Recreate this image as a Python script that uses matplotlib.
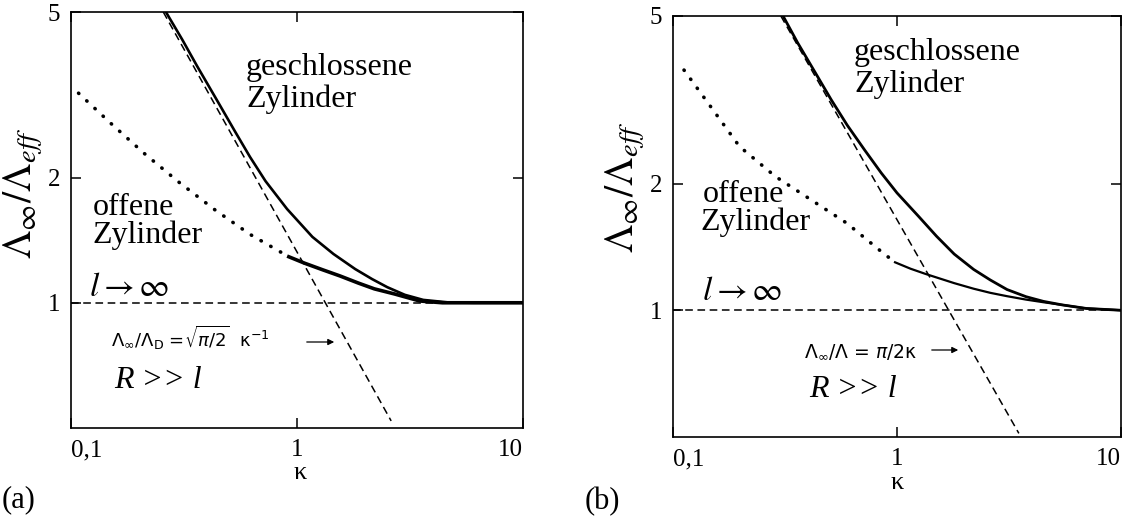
import matplotlib
matplotlib.use("Agg")
import matplotlib.pyplot as plt

plt.rcParams['font.family'] = ['Liberation Serif', 'DejaVu Serif']
plt.rcParams['mathtext.fontset'] = 'stix'

W, H = 1130, 522

# ---------------- data ----------------
# panel (a)
a_closed_k = [0.263, 0.31, 0.362, 0.45, 0.532, 0.62, 0.726, 0.904, 1.17, 1.45, 1.81,
              2.15, 2.51, 3.0, 3.62, 4.67, 6.0, 10.0]
a_closed_r = [5.0, 4.3, 3.70, 3.02, 2.58, 2.24, 1.96, 1.68, 1.44, 1.31, 1.205,
              1.14, 1.09, 1.045, 1.016, 1.002, 1.0, 1.0]
a_open_dot_k = [0.108, 0.15, 0.21, 0.30, 0.435, 0.62, 0.92]
a_open_dot_r = [3.19, 2.70, 2.29, 1.95, 1.67, 1.46, 1.29]
a_open_k = [0.92, 1.08, 1.30, 1.55, 1.87, 2.2, 2.7, 3.49, 4.4, 10.0]
a_open_r = [1.29, 1.245, 1.20, 1.16, 1.115, 1.08, 1.05, 1.01, 1.0, 1.0]
a_asym_k = [0.256, 2.61]
a_asym_r = [5.0, 0.52]

# panel (b)
b_closed_k = [0.31, 0.36, 0.434, 0.509, 0.60, 0.718, 0.85, 1.0, 1.25, 1.50, 1.80, 2.2,
              2.61, 3.1, 3.77, 4.5, 5.45, 7.0, 10.0]
b_closed_r = [5.0, 4.32, 3.65, 3.16, 2.75, 2.40, 2.12, 1.90, 1.67, 1.50, 1.36, 1.25,
              1.18, 1.12, 1.077, 1.05, 1.03, 1.01, 1.0]
b_open_dot_k = [0.112, 0.147, 0.198, 0.286, 0.413, 0.597, 0.863, 0.98]
b_open_dot_r = [3.72, 3.05, 2.45, 2.08, 1.83, 1.61, 1.37, 1.30]
b_open_k = [0.98, 1.15, 1.34, 1.55, 1.80, 2.2, 2.61, 3.1, 3.77, 4.5, 5.45, 7.0, 10.0]
b_open_r = [1.30, 1.255, 1.22, 1.19, 1.16, 1.125, 1.10, 1.08, 1.06, 1.045, 1.03, 1.01, 1.0]
b_asym_k = [0.303, 3.50]
b_asym_r = [5.0, 0.51]

limit_k = [0.1, 10.0]
limit_r = [1.0, 1.0]

x_ticks = [0.1, 1, 10]
x_ticklabels = ['0,1', '1', '10']
y_ticks = [1, 2, 5]
y_ticklabels = ['1', '2', '5']

fig = plt.figure(figsize=(W / 100, H / 100), dpi=100)


def px_axes(l, t, r, b):
    return fig.add_axes([l / W, 1 - b / H, (r - l) / W, (b - t) / H])


def ftext(x, y, s, size, **kw):
    kw.setdefault('ha', 'left')
    kw.setdefault('va', 'baseline')
    return fig.text(x / W, 1 - y / H, s, fontsize=size, **kw)


def farrow(x0, x1, y):
    fig.add_artist(matplotlib.patches.FancyArrowPatch(
        (x0 / W, 1 - y / H), (x1 / W, 1 - y / H), transform=fig.transFigure,
        arrowstyle='-|>', mutation_scale=9, lw=0.9, color='black'))


def setup(ax):
    ax.set_xscale('log')
    ax.set_yscale('log')
    ax.set_xlim(0.1, 10)
    ax.set_ylim(0.5, 5)
    ax.set_xticks(x_ticks)
    ax.set_xticklabels(x_ticklabels)
    ax.set_yticks(y_ticks)
    ax.set_yticklabels(y_ticklabels)
    ax.minorticks_off()
    ax.tick_params(which='major', direction='in', length=7, width=1.1,
                   top=True, right=True, labelsize=18, pad=8)
    lbls = ax.get_xticklabels()
    lbls[0].set_horizontalalignment('left')
    lbls[-1].set_horizontalalignment('right')
    for s in ax.spines.values():
        s.set_linewidth(1.2)


dash = (0, (5, 3))
dots = (0, (0.1, 3))

# ---------------- panel (a) ----------------
axa = px_axes(71, 12, 523, 428)
setup(axa)
axa.plot(limit_k, limit_r, color='black', lw=1.1, linestyle=dash)
axa.plot(a_asym_k, a_asym_r, color='black', lw=1.1, linestyle=dash)
axa.plot(a_closed_k, a_closed_r, color='black', lw=1.9, solid_joinstyle='round')
axa.plot(a_open_k, a_open_r, color='black', lw=2.6, solid_joinstyle='round')
axa.plot(a_open_dot_k, a_open_dot_r, color='black', lw=2.6, linestyle=dots,
         dash_capstyle='round')

fig.text(23 / W, 1 - 193 / H, r'$\Lambda_\infty/\Lambda_{eff}$', fontsize=29,
         rotation=90, ha='center', va='center')
ftext(300, 473, 'κ', 19, ha='center', va='center')
ftext(2, 500, '(a)', 22, va='center')

ftext(246, 75, 'geschlossene', 23)
ftext(246, 107, 'Zylinder', 23)
ftext(93, 215, 'offene', 23)
ftext(92, 243, 'Zylinder', 23)
ftext(89, 296, r'$l\rightarrow\infty$', 24)
t = ftext(111, 347, r'$\Lambda_\infty/\Lambda_\mathrm{D}$ =$\sqrt{\pi/2}$  κ$^{-1}$', 13,
          family=['DejaVu Sans'])
t.set_math_fontfamily('dejavusans')
farrow(304, 337, 342)
ftext(114, 388, 'R >> l', 23, style='italic')

# ---------------- panel (b) ----------------
axb = px_axes(673, 16, 1121, 437)
setup(axb)
axb.plot(limit_k, limit_r, color='black', lw=1.1, linestyle=dash)
axb.plot(b_asym_k, b_asym_r, color='black', lw=1.1, linestyle=dash)
axb.plot(b_closed_k, b_closed_r, color='black', lw=2.0, solid_joinstyle='round')
axb.plot(b_open_k, b_open_r, color='black', lw=1.6, solid_joinstyle='round')
axb.plot(b_open_dot_k, b_open_dot_r, color='black', lw=2.6, linestyle=dots,
         dash_capstyle='round')

fig.text(625 / W, 1 - 187 / H, r'$\Lambda_\infty/\Lambda_{eff}$', fontsize=29,
         rotation=90, ha='center', va='center')
ftext(897, 483, 'κ', 19, ha='center', va='center')
ftext(585, 502, '(b)', 22, va='center')

ftext(854, 60, 'geschlossene', 23)
ftext(854, 92, 'Zylinder', 23)
ftext(703, 202, 'offene', 23)
ftext(700, 230, 'Zylinder', 23)
ftext(702, 300, r'$l\rightarrow\infty$', 24)
t = ftext(804, 357, r'$\Lambda_\infty/\Lambda$ = $\pi/2$κ', 13.5, family=['DejaVu Sans'])
t.set_math_fontfamily('dejavusans')
farrow(929, 961, 350)
ftext(809, 397, 'R >> l', 23, style='italic')

fig.savefig('out.png', dpi=100)
